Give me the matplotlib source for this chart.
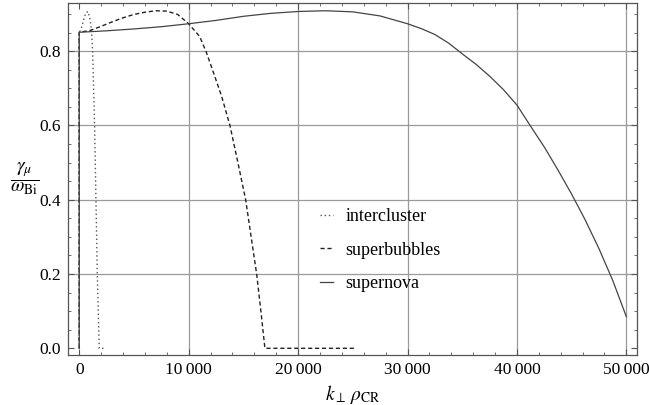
import numpy as np
import matplotlib
matplotlib.use('Agg')
import matplotlib.pyplot as plt
from matplotlib.ticker import MultipleLocator, FuncFormatter

# values
intercluster_x = [0, 0, 200, 400, 600, 800, 1000, 1130, 1225, 1405, 1530, 1650, 1830, 2400]
intercluster_y = [0.0, 0.850, 0.862, 0.885, 0.903, 0.907, 0.885, 0.853, 0.800, 0.600, 0.400, 0.200, 0.0, 0.0]

superbubbles_x = [0, 0, 1000, 2000, 3000, 4000, 5000, 6000, 7000, 8000, 9000, 10000,
                  11000, 11580, 12000, 13000, 13775, 14500, 15210, 15700, 16215, 16600, 16970, 25100]
superbubbles_y = [0.0, 0.851, 0.856, 0.867, 0.879, 0.890, 0.899, 0.905, 0.909, 0.908, 0.899, 0.874,
                  0.840, 0.800, 0.765, 0.680, 0.600, 0.500, 0.400, 0.302, 0.200, 0.100, 0.0, 0.0]

supernova_x = [0, 0, 2500, 5000, 7500, 10000, 12500, 15000, 17500, 20000, 22500, 25000,
               27500, 30000, 31250, 32500, 33750, 35000, 36250, 37500, 38750, 40000,
               41250, 42500, 43750, 45000, 46250, 47500, 48750, 50000]
supernova_y = [0.0, 0.851, 0.855, 0.860, 0.866, 0.874, 0.883, 0.894, 0.902, 0.907, 0.909, 0.906,
               0.895, 0.874, 0.861, 0.845, 0.822, 0.793, 0.765, 0.733, 0.697, 0.655,
               0.598, 0.542, 0.480, 0.415, 0.345, 0.268, 0.183, 0.085]

labels = ['intercluster', 'superbubbles', 'supernova']
x_grid = [10000, 20000, 30000, 40000, 50000]
y_grid = [0.2, 0.4, 0.6, 0.8]

plt.rcParams['font.family'] = ['Liberation Serif', 'DejaVu Serif']
plt.rcParams['mathtext.fontset'] = 'stix'
plt.rcParams['font.size'] = 12.5

fig = plt.figure(figsize=(6.49, 4.05), dpi=100)
ax = fig.add_axes([0.1052, 0.1235, 0.8768, 0.8683])

for xv in x_grid:
    ax.axvline(xv, color='#9a9a9a', lw=0.9, zorder=0)
for yv in y_grid:
    ax.axhline(yv, color='#9a9a9a', lw=0.9, zorder=0)

ax.plot(intercluster_x, intercluster_y, color='#555555', lw=1.0, ls=(0, (1, 2)), label=labels[0])
ax.plot(superbubbles_x, superbubbles_y, color='#222222', lw=1.0, ls=(0, (3, 2)), label=labels[1])
ax.plot(supernova_x, supernova_y, color='#444444', lw=0.9, label=labels[2])

ax.set_xlim(-1000, 51000)
ax.set_ylim(-0.018, 0.929)

ax.xaxis.set_major_locator(MultipleLocator(10000))
ax.xaxis.set_minor_locator(MultipleLocator(2000))
ax.yaxis.set_major_locator(MultipleLocator(0.2))
ax.yaxis.set_minor_locator(MultipleLocator(0.05))
ax.xaxis.set_major_formatter(FuncFormatter(lambda v, p: f'{int(v):,}'.replace(',', '\u2009')))
ax.yaxis.set_major_formatter(FuncFormatter(lambda v, p: f'{v:.1f}'))

ax.tick_params(which='both', direction='in', top=True, right=True, color='#555555')
ax.tick_params(which='major', length=4, width=0.8, labelsize=12.5, pad=5)
ax.tick_params(which='minor', length=2.2, width=0.6)
for s in ax.spines.values():
    s.set_color('#555555')
    s.set_linewidth(0.9)

ax.set_xlabel(r'$k_{\perp}\,\rho_{\mathrm{CR}}$', fontsize=14, labelpad=4)
ax.set_ylabel(r'$\dfrac{\gamma_{\mu}}{\omega_{\mathrm{Bi}}}$', fontsize=14, rotation=0, va='center')
ax.yaxis.set_label_coords(-0.077, 0.50)

ax.legend(loc='upper left', bbox_to_anchor=(0.442, 0.418), frameon=False, borderpad=0,
          borderaxespad=0, handlelength=0.75, handletextpad=0.67, labelspacing=0.92, fontsize=13)

fig.savefig('out.png', dpi=100)
